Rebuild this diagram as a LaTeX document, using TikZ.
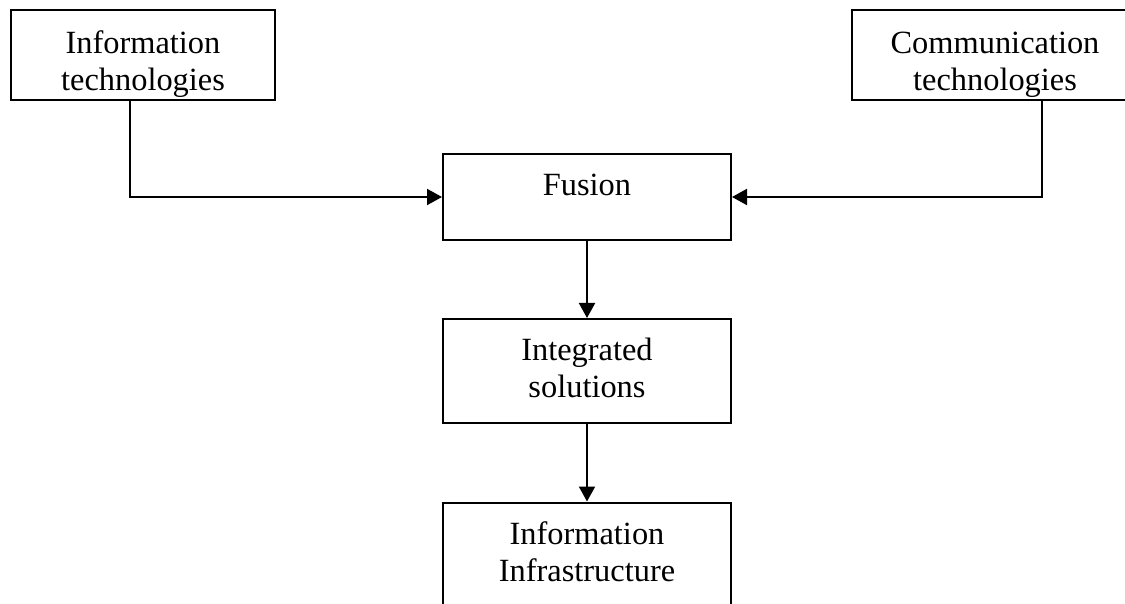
\documentclass[tikz,border=0pt]{standalone}
\usepackage{fontspec}
\setmainfont{Liberation Serif}
\usetikzlibrary{arrows.meta}

\tikzset{
  box/.style={draw,line width=1pt,minimum width=144pt,align=center,inner sep=0pt,
    font=\fontsize{16.2}{18.5}\selectfont},
  arr/.style={line width=1pt,-{Triangle[length=7.5pt,width=8pt]}}
}

\begin{document}
\begin{tikzpicture}[x=0.5pt,y=-0.5pt]
  \useasboundingbox (0,0) rectangle (1125,604);
  % source boxes
  \node[box,minimum width=132pt,minimum height=45pt,text height=36pt,text depth=0pt] (infotech) at (143,55) {Information\\technologies};
  \node[box,minimum width=143pt,minimum height=45pt,text height=36pt,text depth=0pt] (commtech) at (995,55) {Communication\\technologies};
  % chain
  \node[box,minimum height=43pt,text depth=12pt] (fusion) at (587,197) {Fusion};
  \node[box,minimum height=52pt,text depth=3pt] (integ) at (587,371) {Integrated\\solutions};
  \node[box,minimum height=53.5pt,text depth=4pt] (infra) at (587,556) {Information\\Infrastructure};

  \draw[arr] ([xshift=60pt]infotech.south west) |- (fusion.west);
  \draw[arr] ([xshift=95.5pt]commtech.south west) |- (fusion.east);
  \draw[arr] (fusion) -- (integ);
  \draw[arr] (integ) -- (infra);
\end{tikzpicture}
\end{document}
